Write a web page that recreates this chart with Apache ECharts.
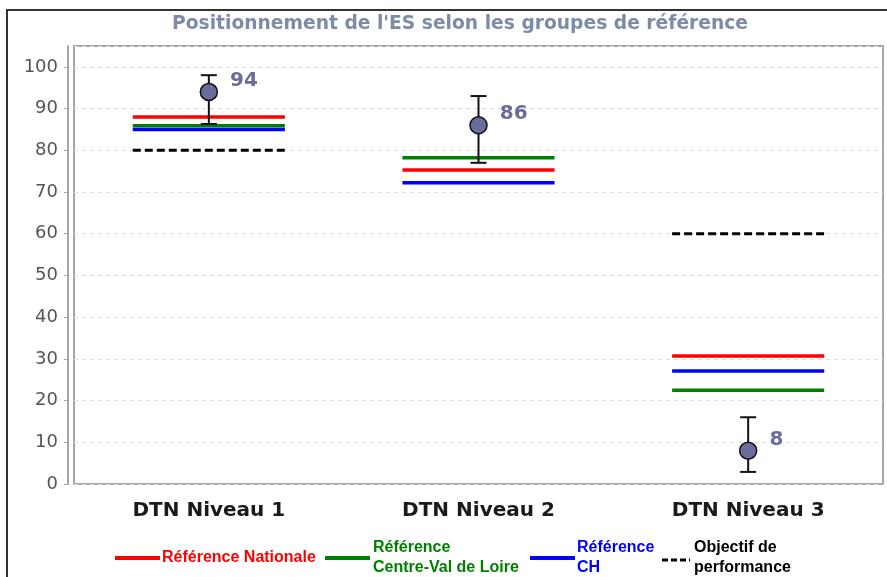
<!DOCTYPE html>
<html>
<head>
<meta charset="utf-8">
<title>Positionnement de l'ES</title>
<script src="https://cdn.jsdelivr.net/npm/echarts@6/dist/echarts.min.js"></script>
<style>
  html, body { margin: 0; padding: 0; background: #fff; }
  #chart { width: 887px; height: 577px; }
</style>
</head>
<body>
<div id="chart"></div>
<script>
let d = document;

// categories
const categories = ["DTN Niveau 1", "DTN Niveau 2", "DTN Niveau 3"];

// valeurs de l'ES + intervalle
const esValues = [94, 86, 8];
const esLow = [86.3, 77, 2.9];
const esHigh = [98, 93, 16];

// references
const refNationale = [88, 75.3, 30.7];
const refRegion = [85.9, 78.2, 22.5];
const refCH = [85, 72.2, 27.1];
const objectif = [80, null, 60];

const yTicks = [0, 10, 20, 30, 40, 50, 60, 70, 80, 90, 100];

const legendNames = ["Référence Nationale", "Référence\nCentre-Val de Loire", "Référence\nCH", "Objectif de\nperformance"];

window.onload = (e) => {
  let chart = echarts.init(d.getElementById("chart"), null, { renderer: "canvas" });

  // segment horizontal pour chaque categorie
  function refSeries(name, data, color, dashed) {
    return {
      name: name,
      type: "custom",
      z: 3,
      data: data.map((v, i) => [i, v]).filter((p) => p[1] !== null),
      renderItem: (params, api) => {
        let c = api.coord([api.value(0), api.value(1)]);
        let band = api.size([1, 0])[0];
        let half = band * 0.282;
        return {
          type: "line",
          shape: { x1: c[0] - half, y1: c[1], x2: c[0] + half, y2: c[1] },
          style: {
            stroke: color,
            lineWidth: dashed ? 3 : 3.5,
            lineDash: dashed ? [8, 4] : null
          }
        };
      }
    };
  }

  let errData = esValues.map((v, i) => [i, esLow[i], esHigh[i]]);
  let legendFont = "bold 16px 'Liberation Sans'";

  let option = {
    animation: false,
    title: {
      text: "Positionnement de l'ES selon les groupes de référence",
      left: 455,
      textAlign: "center",
      top: 10,
      textStyle: {
        fontFamily: "DejaVu Sans",
        fontWeight: "bold",
        fontSize: 18.7,
        color: "#7d8ba8"
      }
    },
    grid: {
      left: 74,
      right: 4,
      top: 46,
      bottom: 93,
      show: true,
      borderColor: "#a6a6a6",
      borderWidth: 2
    },
    xAxis: {
      type: "category",
      data: categories,
      axisLine: { show: false },
      axisTick: { show: false },
      axisLabel: {
        margin: 17,
        fontFamily: "DejaVu Sans",
        fontWeight: "bold",
        fontSize: 20,
        color: "#1a1a1a"
      }
    },
    yAxis: {
      type: "value",
      min: 0,
      max: 105,
      interval: 10,
      offset: 6,
      axisLine: { show: true, lineStyle: { color: "#a6a6a6", width: 2 } },
      axisTick: { show: true, length: 4, lineStyle: { color: "#a6a6a6" } },
      axisLabel: {
        showMaxLabel: false,
        margin: 10,
        fontFamily: "DejaVu Sans",
        fontSize: 18,
        color: "#555",
        formatter: (v) => (yTicks.indexOf(v) >= 0 ? v : "")
      },
      splitLine: { show: true, lineStyle: { color: "#dcdcdc", type: [4, 4] } }
    },
    series: [
      refSeries("Référence Nationale", refNationale, "#ff0000", false),
      refSeries("Référence Centre-Val de Loire", refRegion, "#008000", false),
      refSeries("Référence CH", refCH, "#0000ff", false),
      refSeries("Objectif de performance", objectif, "#000000", true),
      {
        name: "intervalle",
        type: "custom",
        z: 4,
        data: errData,
        renderItem: (params, api) => {
          let lo = api.coord([api.value(0), api.value(1)]);
          let hi = api.coord([api.value(0), api.value(2)]);
          let w = 8;
          let st = { stroke: "#111", lineWidth: 2 };
          return {
            type: "group",
            children: [
              { type: "line", shape: { x1: lo[0], y1: lo[1], x2: hi[0], y2: hi[1] }, style: st },
              { type: "line", shape: { x1: lo[0] - w, y1: lo[1], x2: lo[0] + w, y2: lo[1] }, style: st },
              { type: "line", shape: { x1: hi[0] - w, y1: hi[1], x2: hi[0] + w, y2: hi[1] }, style: st }
            ]
          };
        }
      },
      {
        name: "ES",
        type: "scatter",
        z: 5,
        data: esValues.map((v, i) => [i, v]),
        symbolSize: 17,
        itemStyle: { color: "#6b6b9c", borderColor: "#111", borderWidth: 1.5, opacity: 1 },
        label: {
          show: true,
          position: "right",
          distance: 10,
          offset: [2, -11],
          formatter: (p) => p.value[1],
          fontFamily: "DejaVu Sans",
          fontWeight: "bold",
          fontSize: 20,
          color: "#6b6b9c"
        }
      }
    ],
    graphic: [
      {
        type: "rect",
        shape: { x: 7, y: 10, width: 900, height: 600 },
        style: { fill: "none", stroke: "#333", lineWidth: 2 },
        silent: true
      },
      // legende
      { type: "line", shape: { x1: 115, y1: 558, x2: 160, y2: 558 }, style: { stroke: "#ff0000", lineWidth: 4 } },
      { type: "text", x: 162, y: 558, style: { text: legendNames[0], fill: "#ff0000", font: legendFont, verticalAlign: "middle" } },
      { type: "line", shape: { x1: 325, y1: 558, x2: 370, y2: 558 }, style: { stroke: "#008000", lineWidth: 4 } },
      { type: "text", x: 373, y: 558, style: { text: legendNames[1], fill: "#008000", font: legendFont, verticalAlign: "middle", lineHeight: 20 } },
      { type: "line", shape: { x1: 530, y1: 558, x2: 575, y2: 558 }, style: { stroke: "#0000ff", lineWidth: 4 } },
      { type: "text", x: 577, y: 558, style: { text: legendNames[2], fill: "#0000ff", font: legendFont, verticalAlign: "middle", lineHeight: 20 } },
      { type: "line", shape: { x1: 662, y1: 560, x2: 690, y2: 560 }, style: { stroke: "#000", lineWidth: 3, lineDash: [6, 3] } },
      { type: "text", x: 694, y: 558, style: { text: legendNames[3], fill: "#000", font: legendFont, verticalAlign: "middle", lineHeight: 20 } }
    ]
  };

  chart.setOption(option);
};
</script>
</body>
</html>
